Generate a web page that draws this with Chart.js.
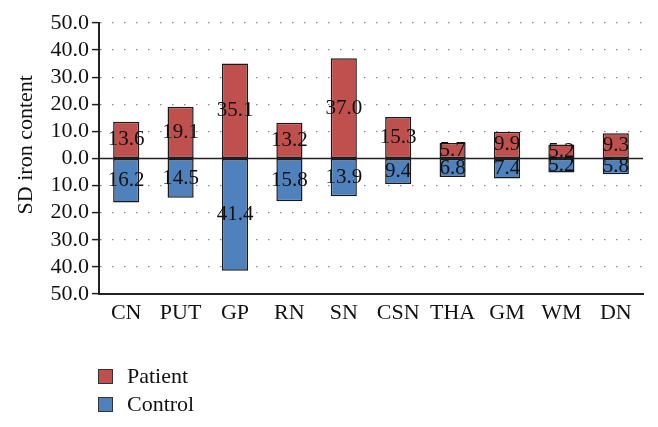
<!DOCTYPE html>
<html>
<head>
<meta charset="utf-8">
<script src="https://cdn.jsdelivr.net/npm/chart.js@4.4.1/dist/chart.umd.min.js"></script>
<style>
  body { margin: 0; background: #fff; }
  #wrap { position: relative; width: 658px; height: 427px; overflow: hidden; }
  #legend { position: absolute; left: 98px; top: 362px; font-family: 'Liberation Serif', 'DejaVu Serif', serif; font-size: 22px; color: #111; }
  .item { height: 28px; display: flex; align-items: center; }
  .box { width: 13px; height: 13px; border: 1px solid #333; margin-right: 14px; }
</style>
</head>
<body>
<div id="wrap">
  <canvas id="chart" width="658" height="427"></canvas>
  <div id="legend"></div>
</div>
<script>
// ---------------- DATA ----------------
const regions = ["CN", "PUT", "GP", "RN", "SN", "CSN", "THA", "GM", "WM", "DN"];
const patientSD = [13.6, 19.1, 35.1, 13.2, 37.0, 15.3, 5.7, 9.9, 5.2, 9.3];
const controlSD = [16.2, 14.5, 41.4, 15.8, 13.9, 9.4, 6.8, 7.4, 5.2, 5.8];
const yTicks = [-50, -40, -30, -20, -10, 0, 10, 20, 30, 40, 50];

const serif = "'Liberation Serif', 'DejaVu Serif', serif";
Chart.defaults.font.family = serif;
Chart.defaults.color = "#111";

// control goes below the zero line
const controlDown = controlSD.map(v => -v);

// zero line + value labels in the middle of each bar
const barLabels = {
    id: "barLabels",
    afterDatasetsDraw(chart) {
        const ctx = chart.ctx;
        const zero = chart.scales.y.getPixelForValue(0);

        ctx.save();
        ctx.strokeStyle = "#222";
        ctx.lineWidth = 1.5;
        ctx.beginPath();
        ctx.moveTo(chart.chartArea.left, zero);
        ctx.lineTo(chart.chartArea.right, zero);
        ctx.stroke();

        ctx.font = "21px " + serif;
        ctx.fillStyle = "#111";
        ctx.textAlign = "center";
        ctx.textBaseline = "middle";
        chart.data.datasets.forEach((ds, i) => {
            chart.getDatasetMeta(i).data.forEach((bar, j) => {
                ctx.fillText(Math.abs(ds.data[j]).toFixed(1), bar.x, (bar.y + bar.base) / 2);
            });
        });
        ctx.restore();
    }
};

let chart;

function initChart() {
    const ctx = document.getElementById("chart").getContext("2d");
    chart = new Chart(ctx, {
        type: "bar",
        data: {
            labels: regions,
            datasets: [{
                label: "Patient",
                data: patientSD,
                backgroundColor: "#C0504D",
                borderColor: "#1a1a1a",
                borderWidth: 1.5,
                borderSkipped: false,
                barPercentage: 0.48,
                categoryPercentage: 1
            }, {
                label: "Control",
                data: controlDown,
                backgroundColor: "#4F81BD",
                borderColor: "#1a1a1a",
                borderWidth: 1.5,
                borderSkipped: false,
                barPercentage: 0.48,
                categoryPercentage: 1
            }]
        },
        options: {
            responsive: false,
            animation: false,
            layout: { padding: { top: 23, right: 15, bottom: 93, left: 0 } },
            plugins: {
                legend: { display: false },
                tooltip: { enabled: false }
            },
            scales: {
                x: {
                    stacked: true,
                    grid: { display: false, drawTicks: false },
                    border: { display: true, color: "#222", width: 2 },
                    ticks: { font: { size: 22 }, padding: 6, color: "#111", autoSkip: false, maxRotation: 0 },
                    afterFit(scale) { scale.height = 40; }
                },
                y: {
                    stacked: true,
                    min: -50,
                    max: 50,
                    afterBuildTicks(scale) { scale.ticks = yTicks.map(v => ({ value: v })); },
                    ticks: {
                        font: { size: 22 },
                        color: "#111",
                        padding: 3,
                        autoSkip: false,
                        callback: v => Math.abs(v).toFixed(1)
                    },
                    grid: {
                        color: c => (c.tick && (c.tick.value === 0 || c.tick.value === -50)) ? "rgba(0,0,0,0)" : "#8a8a8a",
                        lineWidth: 1.2,
                        tickColor: "#222",
                        tickLength: 7,
                        tickWidth: 1.5
                    },
                    border: { display: true, color: "#222", width: 2, dash: [1.5, 10.5] },
                    title: {
                        display: true,
                        // leading spaces nudge the rotated title upward like the original
                        text: "     SD iron content",
                        font: { size: 22 },
                        color: "#111",
                        padding: { top: 13, bottom: 0 }
                    },
                    afterFit(scale) { scale.width = 99; }
                }
            }
        },
        plugins: [barLabels]
    });
}

function buildLegend() {
    const box = document.getElementById("legend");
    chart.data.datasets.forEach(ds => {
        const row = document.createElement("div");
        row.className = "item";
        const sw = document.createElement("span");
        sw.className = "box";
        sw.style.background = ds.backgroundColor;
        const txt = document.createElement("span");
        txt.textContent = ds.label;
        row.appendChild(sw);
        row.appendChild(txt);
        box.appendChild(row);
    });
}

initChart();
buildLegend();
</script>
</body>
</html>
